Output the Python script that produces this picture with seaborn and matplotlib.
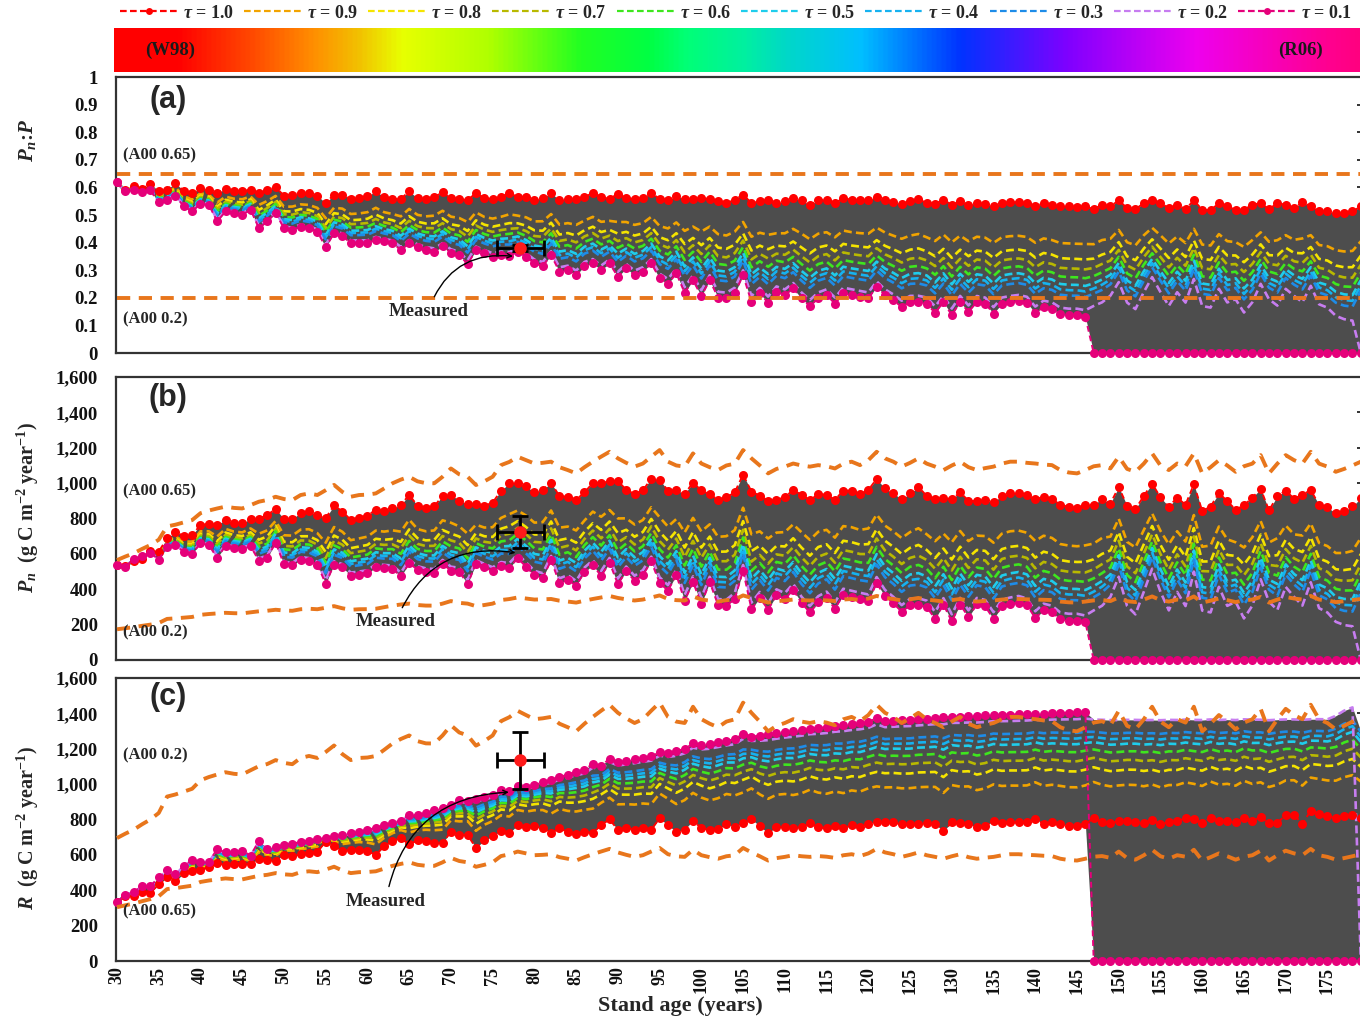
import numpy as np
import pandas as pd
import matplotlib
matplotlib.use("Agg")
import matplotlib.pyplot as plt
import seaborn as sns
from matplotlib.colors import LinearSegmentedColormap
from matplotlib.lines import Line2D
from matplotlib.ticker import FuncFormatter, MultipleLocator

# ---------------------------------------------------------------- data
age = list(range(30, 180))

# Pn:P of the W98 end member (tau = 1.0), one value per year
ratio_w98 = [
    0.618, 0.589, 0.606, 0.594, 0.614, 0.586, 0.592, 0.616, 0.586, 0.580,
    0.598, 0.592, 0.580, 0.594, 0.586, 0.586, 0.592, 0.580, 0.589, 0.601,
    0.570, 0.574, 0.580, 0.580, 0.570, 0.543, 0.574, 0.574, 0.558, 0.561,
    0.568, 0.586, 0.565, 0.558, 0.558, 0.586, 0.561, 0.558, 0.565, 0.582,
    0.561, 0.558, 0.553, 0.580, 0.561, 0.558, 0.565, 0.580, 0.565, 0.565,
    0.555, 0.561, 0.580, 0.553, 0.558, 0.558, 0.565, 0.580, 0.565, 0.558,
    0.577, 0.561, 0.558, 0.561, 0.580, 0.558, 0.555, 0.568, 0.558, 0.558,
    0.561, 0.558, 0.549, 0.543, 0.555, 0.574, 0.543, 0.549, 0.555, 0.543,
    0.549, 0.561, 0.553, 0.537, 0.553, 0.555, 0.543, 0.561, 0.555, 0.553,
    0.553, 0.565, 0.553, 0.546, 0.541, 0.549, 0.558, 0.543, 0.540, 0.555,
    0.537, 0.549, 0.537, 0.543, 0.541, 0.531, 0.543, 0.546, 0.546, 0.543,
    0.531, 0.543, 0.537, 0.531, 0.531, 0.529, 0.531, 0.521, 0.537, 0.531,
    0.553, 0.525, 0.521, 0.543, 0.555, 0.543, 0.525, 0.537, 0.521, 0.553,
    0.519, 0.517, 0.543, 0.531, 0.519, 0.519, 0.537, 0.543, 0.521, 0.543,
    0.537, 0.525, 0.546, 0.531, 0.513, 0.513, 0.507, 0.507, 0.513, 0.531,
]

# Pn:P of the R06 end member (tau = 0.1), before any stand collapse
ratio_r06 = [
    0.618, 0.586, 0.592, 0.582, 0.589, 0.546, 0.555, 0.570, 0.531, 0.513,
    0.541, 0.537, 0.477, 0.513, 0.507, 0.501, 0.519, 0.452, 0.477, 0.507,
    0.452, 0.446, 0.458, 0.452, 0.440, 0.383, 0.434, 0.424, 0.398, 0.398,
    0.398, 0.410, 0.404, 0.398, 0.373, 0.398, 0.383, 0.373, 0.367, 0.386,
    0.364, 0.355, 0.322, 0.373, 0.361, 0.349, 0.355, 0.352, 0.367, 0.349,
    0.325, 0.315, 0.355, 0.295, 0.301, 0.282, 0.315, 0.325, 0.301, 0.325,
    0.276, 0.307, 0.282, 0.295, 0.325, 0.270, 0.250, 0.289, 0.218, 0.264,
    0.206, 0.264, 0.201, 0.198, 0.216, 0.282, 0.185, 0.216, 0.182, 0.222,
    0.210, 0.234, 0.198, 0.170, 0.198, 0.210, 0.179, 0.216, 0.210, 0.204,
    0.198, 0.240, 0.210, 0.191, 0.167, 0.185, 0.185, 0.179, 0.145, 0.185,
    0.137, 0.185, 0.149, 0.185, 0.179, 0.143, 0.179, 0.185, 0.189, 0.182,
    0.145, 0.167, 0.161, 0.141, 0.137, 0.137, 0.131, 0.148, 0.161, 0.187,
    0.238, 0.161, 0.136, 0.200, 0.257, 0.200, 0.148, 0.200, 0.161, 0.250,
    0.148, 0.142, 0.213, 0.161, 0.174, 0.123, 0.161, 0.232, 0.174, 0.148,
    0.213, 0.187, 0.161, 0.225, 0.155, 0.142, 0.111, 0.098, 0.092, 0.160,
]

# gross production P (g C m-2 year-1) of W98, shared by the A00 runs
gpp_w98 = [
    869, 900, 928, 966, 1000, 1046, 1162, 1177, 1197, 1217,
    1277, 1300, 1318, 1334, 1323, 1318, 1348, 1377, 1392, 1420,
    1400, 1391, 1435, 1449, 1435, 1477, 1523, 1462, 1420, 1435,
    1438, 1449, 1492, 1537, 1569, 1594, 1554, 1538, 1537, 1594,
    1666, 1615, 1594, 1522, 1554, 1594, 1695, 1723, 1768, 1738,
    1709, 1715, 1725, 1677, 1652, 1623, 1677, 1725, 1769, 1811,
    1754, 1715, 1682, 1709, 1769, 1826, 1725, 1692, 1682, 1797,
    1709, 1677, 1652, 1692, 1708, 1826, 1754, 1692, 1623, 1662,
    1682, 1709, 1692, 1682, 1695, 1685, 1666, 1708, 1725, 1695,
    1738, 1811, 1754, 1725, 1682, 1715, 1754, 1708, 1682, 1652,
    1692, 1725, 1677, 1652, 1669, 1682, 1708, 1725, 1725, 1715,
    1709, 1700, 1695, 1652, 1631, 1623, 1652, 1685, 1695, 1666,
    1768, 1662, 1637, 1708, 1797, 1692, 1652, 1709, 1685, 1797,
    1623, 1677, 1738, 1692, 1637, 1685, 1708, 1782, 1623, 1708,
    1782, 1738, 1709, 1811, 1708, 1682, 1637, 1662, 1692, 1725,
]

# gross production P of R06
gpp_r06 = [
    869, 900, 960, 1010, 1030, 1040, 1150, 1140, 1150, 1170,
    1220, 1210, 1210, 1260, 1250, 1250, 1240, 1240, 1212, 1308,
    1197, 1199, 1240, 1241, 1227, 1126, 1244, 1238, 1199, 1214,
    1229, 1278, 1287, 1297, 1266, 1375, 1334, 1337, 1346, 1412,
    1387, 1408, 1333, 1461, 1451, 1441, 1495, 1483, 1567, 1512,
    1474, 1474, 1589, 1474, 1508, 1489, 1577, 1653, 1578, 1695,
    1554, 1635, 1589, 1630, 1714, 1616, 1568, 1669, 1533, 1671,
    1538, 1670, 1548, 1552, 1598, 1791, 1556, 1626, 1566, 1656,
    1639, 1698, 1628, 1581, 1642, 1675, 1619, 1702, 1696, 1690,
    1685, 1807, 1716, 1679, 1634, 1672, 1676, 1669, 1606, 1690,
    1599, 1696, 1626, 1702, 1692, 1623, 1696, 1709, 1720, 1707,
    1634, 1679, 1670, 1633, 1627, 1629, 1620, 1643, 1669, 1722,
    1837, 1669, 1620, 1750, 1884, 1750, 1643, 1750, 1669, 1867,
    1643, 1632, 1779, 1669, 1695, 1596, 1669, 1823, 1695, 1643,
    1779, 1722, 1669, 1806, 1657, 1632, 1600, 1610, 1620, 1667,
]

tau_levels = [1.0, 0.9, 0.8, 0.7, 0.6, 0.5, 0.4, 0.3, 0.2, 0.1]
# share of the W98 end member carried by each tau run
tau_weights = [1.0, 0.66, 0.52, 0.43, 0.35, 0.28, 0.23, 0.18, 0.06, 0.0]
tau_colors = ["#ff0000", "#f2a400", "#f5e400", "#b9b900", "#3ee61e",
              "#1fcdec", "#16b2f0", "#1e8ce8", "#c77df0", "#e5007a"]
# first year in which a run has collapsed to zero
collapse_age = {0.1: 147, 0.2: 179}

a00_ratios = [0.65, 0.2]
a00_color = "#e8761c"

measured_age, measured_age_err = 78.3, 2.8
measured_ratio, measured_ratio_err = 0.38, 0.01
measured_pn, measured_pn_err = 725, 90
measured_r, measured_r_err = 1135, 160

# ---------------------------------------------------------------- tables
ages = np.array(age)
r98, r06 = np.array(ratio_w98), np.array(ratio_r06)
g98, g06 = np.array(gpp_w98, float), np.array(gpp_r06, float)

frames = []
for tau, w in zip(tau_levels, tau_weights):
    ratio = r06 + w * (r98 - r06)
    gpp = g06 + w * (g98 - g06)
    alive = ages < collapse_age.get(tau, 10 ** 6)
    frames.append(pd.DataFrame({
        "tau": tau,
        "age": ages,
        "ratio": np.where(alive, ratio, 0.0),
        "pn": np.where(alive, ratio * gpp, 0.0),
        "resp": np.where(alive, (1 - ratio) * gpp, 0.0),
    }))
runs = pd.concat(frames, ignore_index=True)

a00 = pd.concat([pd.DataFrame({
    "level": lvl, "age": ages,
    "ratio": np.full(len(ages), lvl),
    "pn": lvl * g98,
    "resp": (1 - lvl) * g98,
}) for lvl in a00_ratios], ignore_index=True)

# ---------------------------------------------------------------- style
sns.set_style("white")
plt.rcParams["font.family"] = ["Liberation Serif", "DejaVu Serif"]
plt.rcParams["font.weight"] = "bold"
plt.rcParams["mathtext.fontset"] = "custom"
plt.rcParams["mathtext.rm"] = "Liberation Serif:bold"
plt.rcParams["mathtext.it"] = "Liberation Serif:italic:bold"
plt.rcParams["mathtext.bf"] = "Liberation Serif:bold"

W, H = 1360, 1018
fig = plt.figure(figsize=(W / 100, H / 100), dpi=100)


def px_axes(x0, y0, x1, y1):
    return fig.add_axes([x0 / W, 1 - y1 / H, (x1 - x0) / W, (y1 - y0) / H])


ax_a = px_axes(116, 77, 1363, 353)
ax_b = px_axes(116, 377, 1363, 660)
ax_c = px_axes(116, 678, 1363, 961)

fill_grey = "#4d4d4d"
mid_dash = (0, (3, 1.6))
end_dash = (0, (3, 2))
a00_dash = (0, (3.4, 2.2))

panels = [(ax_a, "ratio", (0, 1), 0.1), (ax_b, "pn", (0, 1600), 200),
          (ax_c, "resp", (0, 1600), 200)]

for ax, col, ylim, step in panels:
    env = runs.groupby("age")[col]
    ax.fill_between(ages, env.min().values, env.max().values,
                    color=fill_grey, lw=0, zorder=1)
    for tau, colr in zip(tau_levels, tau_colors):
        sub = runs[runs["tau"] == tau]
        if tau in (1.0, 0.1):
            sns.lineplot(data=sub, x="age", y=col, ax=ax, color=colr,
                         lw=1.4, linestyle=end_dash, marker="o", ms=6.5,
                         mec=colr, mew=0, legend=False, errorbar=None,
                         zorder=4, clip_on=(tau != 0.1))
        else:
            sns.lineplot(data=sub, x="age", y=col, ax=ax, color=colr,
                         lw=1.9, linestyle=mid_dash, legend=False,
                         errorbar=None, zorder=3)
    for lvl in a00_ratios:
        sns.lineplot(data=a00[a00["level"] == lvl], x="age", y=col, ax=ax,
                     color=a00_color, lw=2.8, linestyle=a00_dash,
                     legend=False, errorbar=None, zorder=5)

    ax.set_xlim(29.88, 179.26)
    ax.set_ylim(*ylim)
    ax.xaxis.set_major_locator(MultipleLocator(5))
    ax.yaxis.set_major_locator(MultipleLocator(step))
    ax.set_xlabel("")
    ax.set_ylabel("")
    ax.tick_params(axis="both", direction="in", length=4, width=1.2,
                   right=True, labelsize=13.5, colors="#111111")
    ax.tick_params(axis="y", pad=13)
    for s in ax.spines.values():
        s.set_linewidth(1.6)
        s.set_color("#333333")

ax_a.yaxis.set_major_formatter(FuncFormatter(
    lambda v, p: "0" if abs(v) < 1e-9 else ("1" if abs(v - 1) < 1e-9 else f"{v:.1f}")))
for ax in (ax_b, ax_c):
    ax.yaxis.set_major_formatter(FuncFormatter(lambda v, p: f"{int(round(v)):,}"))
for ax in (ax_a, ax_b):
    ax.tick_params(axis="x", labelbottom=False)
ax_c.tick_params(axis="x", labelsize=13, pad=4)
for lab in ax_c.get_xticklabels():
    lab.set_rotation(90)

# measured point with error bars
for ax, yv, ye in ((ax_a, measured_ratio, measured_ratio_err),
                   (ax_b, measured_pn, measured_pn_err),
                   (ax_c, measured_r, measured_r_err)):
    ax.errorbar(measured_age, yv, xerr=measured_age_err, yerr=ye, fmt="o",
                color="#ff1a1a", ms=8, ecolor="black", elinewidth=2,
                capsize=6, capthick=2, zorder=7)

# "Measured" callouts
callouts = [(ax_a, (67.3, 0.152), (77.6, 0.35)),
            (ax_b, (63.4, 215), (77.9, 605)),
            (ax_c, (62.2, 339), (77.1, 955))]
for ax, txt_xy, pt_xy in callouts:
    ax.annotate("Measured", xy=pt_xy, xytext=txt_xy, ha="center", va="center",
                fontsize=13.5, fontweight="bold", zorder=8,
                arrowprops=dict(arrowstyle="->", lw=1.0, color="black",
                                shrinkA=2, shrinkB=1, mutation_scale=8,
                                connectionstyle="arc3,rad=-0.4"))

# A00 tags
tags = [(ax_a, 0.717, "(A00 0.65)"), (ax_a, 0.123, "(A00 0.2)"),
        (ax_b, 955, "(A00 0.65)"), (ax_b, 158, "(A00 0.2)"),
        (ax_c, 1165, "(A00 0.2)"), (ax_c, 283, "(A00 0.65)")]
for ax, yv, s in tags:
    ax.text(0.006, yv, s, transform=ax.get_yaxis_transform(), ha="left",
            va="center", fontsize=12, fontweight="bold", zorder=8)

# panel letters
for ax, s, yf in ((ax_a, "(a)", 0.915), (ax_b, "(b)", 0.925), (ax_c, "(c)", 0.932)):
    ax.text(0.042, yf, s, transform=ax.transAxes, ha="center", va="center",
            fontsize=22, fontweight="bold", family=["Liberation Sans", "DejaVu Sans"],
            zorder=8)

# axis titles
fig.text(28 / W, 1 - 140 / H, r"$P_{n}$:$P$", rotation=90, ha="center",
         va="center", fontsize=15)
fig.text(28 / W, 1 - 507 / H, r"$P_{n}$  (g C m$^{-2}$ year$^{-1}$)",
         rotation=90, ha="center", va="center", fontsize=14.5)
fig.text(28 / W, 1 - 828 / H, r"$R$  (g C m$^{-2}$ year$^{-1}$)",
         rotation=90, ha="center", va="center", fontsize=14.5)
fig.text(680 / W, 1 - 1006 / H, "Stand age (years)", ha="center",
         va="center", fontsize=16, fontweight="bold")

# W98 -> R06 colour bar
stops = [(0.0, "#ff0000"), (0.05, "#ff0000"), (0.11, "#ff4a00"),
         (0.16, "#ff9000"), (0.195, "#f2c000"), (0.23, "#e8ff00"),
         (0.30, "#b0ff00"), (0.374, "#22ff22"), (0.43, "#00ff44"),
         (0.46, "#00ff77"), (0.506, "#00f0a0"), (0.54, "#00d8c8"),
         (0.60, "#00bfff"), (0.68, "#0033ff"), (0.767, "#8000ff"),
         (0.87, "#ee00ee"), (0.976, "#ff0090"), (1.0, "#ff0080")]
rainbow = LinearSegmentedColormap.from_list("w98_r06", stops)
ax_bar = px_axes(114, 28, 1360, 72)
ax_bar.imshow(np.linspace(0, 1, 512)[None, :], aspect="auto", cmap=rainbow,
              extent=(0, 1, 0, 1))
ax_bar.set_axis_off()
ax_bar.text(0.045, 0.5, "(W98)", ha="center", va="center", fontsize=13.5,
            fontweight="bold", color="#1a1a1a")
ax_bar.text(0.952, 0.5, "(R06)", ha="center", va="center", fontsize=13.5,
            fontweight="bold", color="#1a1a1a")

# legend row
handles = []
for tau, colr in zip(tau_levels, tau_colors):
    mk = "o" if tau in (1.0, 0.1) else None
    handles.append(Line2D([], [], color=colr, lw=1.6, linestyle=(0, (3, 1.5)),
                          marker=mk, ms=5, mew=0,
                          label=rf"$\tau$ = {tau:.1f}"))
fig.legend(handles=handles, loc="upper left", bbox_to_anchor=(116 / W, 1 - 1 / H),
           ncol=10, frameon=False, handlelength=3.2, handletextpad=0.3,
           columnspacing=0.55, borderaxespad=0, borderpad=0.2,
           prop={"size": 13, "weight": "bold"})

fig.savefig("out.png", dpi=100)
